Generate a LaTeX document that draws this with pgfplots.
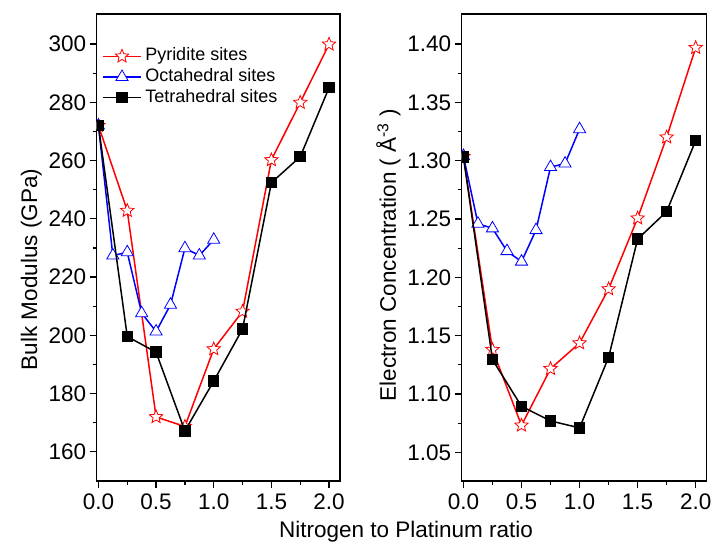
\documentclass[border=0pt]{standalone}
\usepackage{fontspec}
\setmainfont{Liberation Sans}
\usepackage{pgfplots}
\pgfplotsset{compat=1.18}

\pgfdeclareplotmark{ostar}{%
  \pgfpathmoveto{\pgfpointpolar{90}{\pgfplotmarksize}}%
  \pgfpathlineto{\pgfpointpolar{126}{0.45\pgfplotmarksize}}%
  \pgfpathlineto{\pgfpointpolar{162}{\pgfplotmarksize}}%
  \pgfpathlineto{\pgfpointpolar{198}{0.45\pgfplotmarksize}}%
  \pgfpathlineto{\pgfpointpolar{234}{\pgfplotmarksize}}%
  \pgfpathlineto{\pgfpointpolar{270}{0.45\pgfplotmarksize}}%
  \pgfpathlineto{\pgfpointpolar{306}{\pgfplotmarksize}}%
  \pgfpathlineto{\pgfpointpolar{342}{0.45\pgfplotmarksize}}%
  \pgfpathlineto{\pgfpointpolar{18}{\pgfplotmarksize}}%
  \pgfpathlineto{\pgfpointpolar{54}{0.45\pgfplotmarksize}}%
  \pgfpathclose
  \pgfusepathqfillstroke
}

\pgfplotstableread{
x    B      E
0    272.0  1.3035
0.25 242.8  1.1380
0.5  172.0  1.0732
0.75 168.7  1.1217
1.0  195.3  1.1437
1.25 208.2  1.1900
1.5  260.2  1.2507
1.75 279.9  1.3201
2.0  299.9  1.3968
}\pyr

\pgfplotstableread{
x     B      E
0     272.0  1.3040
0.125 227.4  1.2460
0.25  228.5  1.2420
0.375 207.6  1.2225
0.5   201.3  1.2135
0.625 210.5  1.2405
0.75  229.9  1.2945
0.875 227.4  1.2975
1.0   232.8  1.3270
}\oct

\pgfplotstableread{
x    B      E
0    272.0  1.3030
0.25 199.6  1.1295
0.5  194.2  1.0895
0.75 167.2  1.0770
1.0  184.3  1.0710
1.25 202.2  1.1314
1.5  252.4  1.2328
1.75 261.3  1.2564
2.0  285.0  1.3172
}\tet

\pgfplotsset{
  common/.style={
    scale only axis, height=467pt,
    tick align=outside, tick pos=left,
    major tick length=7pt, minor tick length=4pt,
    minor tick num=1,
    clip marker paths=true,
    axis line style={line width=1.5pt},
    every tick/.style={line width=1.2pt, black},
    tick label style={font=\fontsize{22.5}{26}\selectfont},
    label style={font=\fontsize{22.5}{26}\selectfont},
    /pgf/number format/assume math mode=true,
    xmin=-0.015, xmax=2.095,
    xtick={0,0.5,1,1.5,2},
    xticklabel style={/pgf/number format/.cd, fixed, fixed zerofill, precision=1},
    xticklabel shift=2pt,
  },
  redp/.style={color=red, line width=1.5pt, mark=ostar, mark size=7pt, mark options={fill=white, line width=0.8pt, solid}},
  bluep/.style={color=blue, line width=1.5pt, mark=triangle*, mark size=7pt, mark options={fill=white, line width=0.8pt, solid}},
  blackp/.style={color=black, line width=1.5pt, mark=square*, mark size=5pt, mark options={fill=black, solid}},
}

\begin{document}
\begin{tikzpicture}
\path[use as bounding box] (0,0) rectangle (713pt,544pt);

\begin{axis}[common,
  at={(96.7pt,63pt)}, anchor=south west,
  width=243.3pt,
  ymin=150, ymax=310.3,
  ytick={160,180,200,220,240,260,280,300},
  ylabel={Bulk Modulus (GPa)},
  ylabel style={at={(ticklabel cs:0.468)}, xshift=-7pt},
  legend style={draw=none, fill=none, at={(0.022,0.932)}, anchor=north west,
    inner sep=0pt, font=\fontsize{18}{21}\selectfont,
    nodes={inner ysep=2pt, inner xsep=3.5pt, text height=13pt, text depth=3.7pt}},
  legend cell align=left,
  legend image code/.code={\draw[mark repeat=2,mark phase=2] plot coordinates {(0pt,0pt)(19pt,0pt)(38pt,0pt)};},
]
\addplot[redp] table[x=x,y=B] {\pyr};
\addlegendentry{Pyridite sites}
\addplot[bluep] table[x=x,y=B] {\oct};
\addlegendentry{Octahedral sites}
\addplot[blackp] table[x=x,y=B] {\tet};
\addlegendentry{Tetrahedral sites}
\end{axis}

\begin{axis}[common,
  at={(461.7pt,63pt)}, anchor=south west,
  width=245pt,
  ymin=1.0255, ymax=1.4257,
  ytick={1.05,1.10,1.15,1.20,1.25,1.30,1.35,1.40},
  yticklabel style={/pgf/number format/.cd, fixed, fixed zerofill, precision=2},
  ylabel={Electron Concentration ( Å\textsuperscript{-3} )},
  ylabel style={at={(ticklabel cs:0.49)}, xshift=-3pt},
]
\addplot[redp] table[x=x,y=E] {\pyr};
\addplot[bluep] table[x=x,y=E] {\oct};
\addplot[blackp] table[x=x,y=E] {\tet};
\end{axis}

\node[anchor=base, font=\fontsize{22.5}{26}\selectfont] at (406pt,6pt) {Nitrogen to Platinum ratio};
\end{tikzpicture}
\end{document}
